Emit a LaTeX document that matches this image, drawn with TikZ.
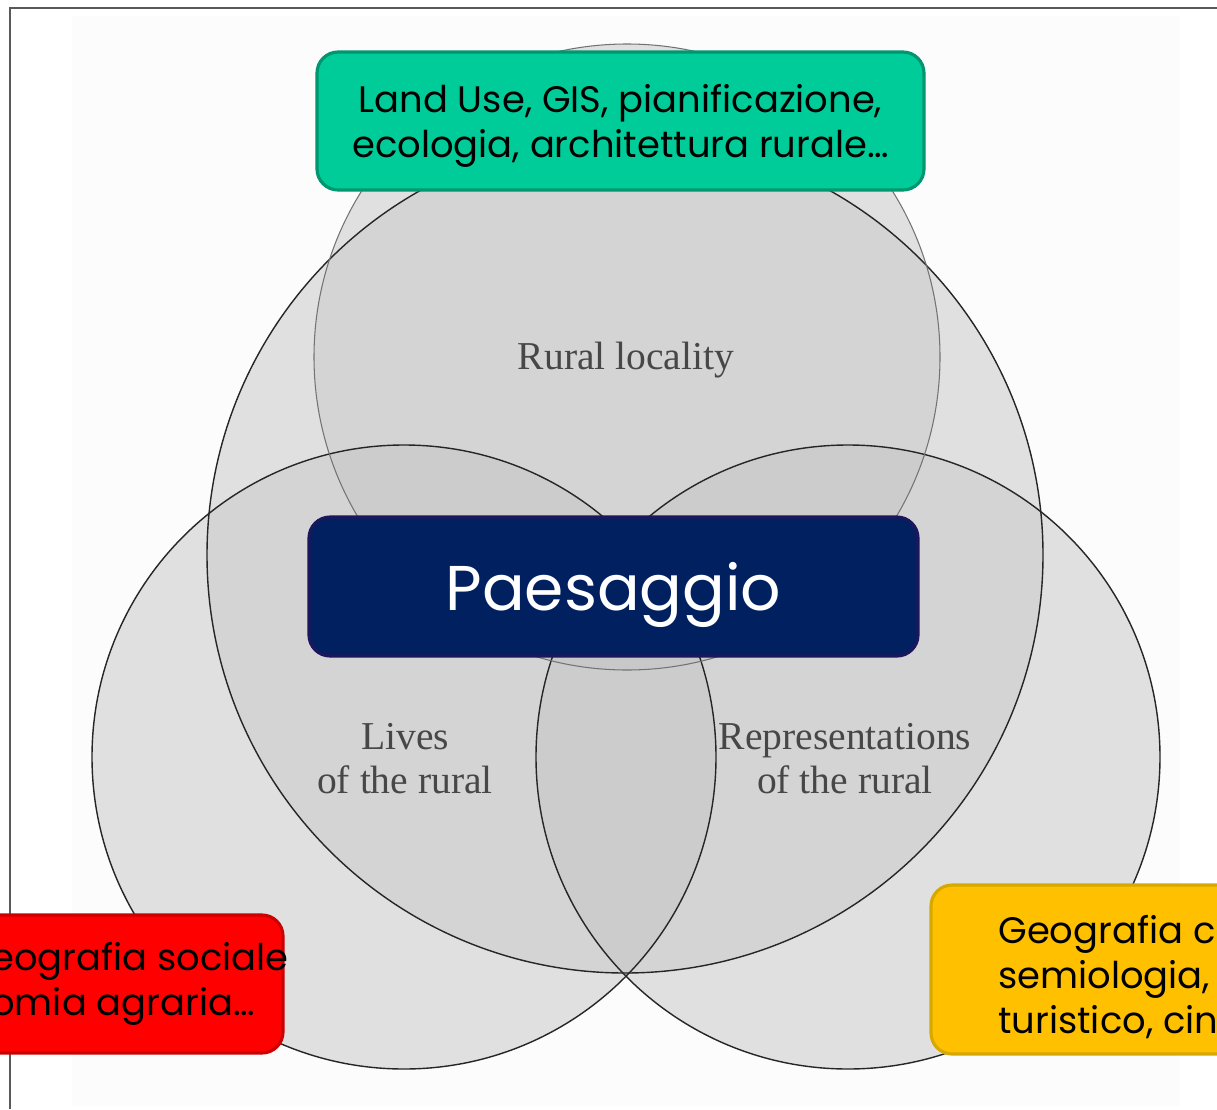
\documentclass[tikz,border=0pt]{standalone}
\usepackage{fontspec}
\setmainfont{Liberation Serif}
\newfontfamily\boxfont{Poppins}
\usepackage{xcolor}
\newcommand{\pix}{0.02cm}

\definecolor{vennone}{RGB}{224,224,224}
\definecolor{venntwo}{RGB}{212,212,212}
\definecolor{vennthree}{RGB}{204,204,204}
\definecolor{vennfour}{RGB}{200,200,200}
\definecolor{greenfill}{RGB}{0,204,153}
\definecolor{greenline}{RGB}{0,150,112}
\definecolor{navyfill}{RGB}{0,32,96}
\definecolor{navyline}{RGB}{28,22,92}
\definecolor{redfill}{RGB}{255,0,0}
\definecolor{redline}{RGB}{204,0,0}
\definecolor{goldfill}{RGB}{255,192,0}
\definecolor{goldline}{RGB}{214,168,0}

\begin{document}
\begin{tikzpicture}
\useasboundingbox (0,0) rectangle (1217*\pix,-1109*\pix);
\clip (0,0) rectangle (1217*\pix,-1109*\pix);
\tikzstyle{ring}=[draw=black!85, line width=0.8pt]
\tikzstyle{ringlight}=[draw=black!55, line width=0.6pt]
\tikzstyle{rurallabel}=[text=black!72, font=\fontsize{22.5}{25}\selectfont, align=center, inner sep=0pt]
\tikzstyle{boxtext}=[text=black, font=\boxfont\fontsize{21}{25.5}\selectfont, inner sep=0pt]
\tikzstyle{fieldbox}=[rounded corners=12pt, line width=1.8pt, minimum width=607*\pix, minimum height=138*\pix, inner sep=0pt]

\fill[black!1] (72*\pix,-16*\pix) rectangle (1180*\pix,-1106*\pix);
\draw[black!65, line width=0.7pt] (10*\pix,-1109*\pix) -- (10*\pix,-8*\pix) -- (1217*\pix,-8*\pix);

\coordinate (outer) at (625*\pix,-555*\pix);
\coordinate (locality) at (627*\pix,-357*\pix);
\coordinate (lives) at (404*\pix,-757*\pix);
\coordinate (repr) at (848*\pix,-757*\pix);

\fill[vennone] (outer) circle (418*\pix);
\fill[vennone] (locality) circle (313*\pix);
\fill[vennone] (lives) circle (312*\pix);
\fill[vennone] (repr) circle (312*\pix);

\begin{scope}
\clip (outer) circle (418*\pix);
\fill[venntwo] (locality) circle (313*\pix);
\fill[venntwo] (lives) circle (312*\pix);
\fill[venntwo] (repr) circle (312*\pix);
\end{scope}
\begin{scope}
\clip (locality) circle (313*\pix);
\fill[venntwo] (lives) circle (312*\pix);
\fill[venntwo] (repr) circle (312*\pix);
\end{scope}
\begin{scope}
\clip (lives) circle (312*\pix);
\fill[venntwo] (repr) circle (312*\pix);
\end{scope}

\begin{scope}
\clip (outer) circle (418*\pix);
\clip (locality) circle (313*\pix);
\fill[vennthree] (lives) circle (312*\pix);
\fill[vennthree] (repr) circle (312*\pix);
\end{scope}
\begin{scope}
\clip (outer) circle (418*\pix);
\clip (lives) circle (312*\pix);
\fill[vennthree] (repr) circle (312*\pix);
\end{scope}
\begin{scope}
\clip (outer) circle (418*\pix);
\clip (locality) circle (313*\pix);
\clip (lives) circle (312*\pix);
\fill[vennfour] (repr) circle (312*\pix);
\end{scope}

\draw[ring] (outer) circle (418*\pix);
\draw[ring] (lives) circle (312*\pix);
\draw[ring] (repr) circle (312*\pix);
\draw[ringlight] (locality) circle (313*\pix);

\node[rurallabel] (ruralloc) at (626*\pix,-360*\pix) {Rural locality};
\node[rurallabel] (rurallives) at (405*\pix,-759*\pix) {Lives\\of the rural};
\node[rurallabel] (ruralrepr) at (845*\pix,-759*\pix) {Representations\\of the rural};

\node[fieldbox, draw=greenline, fill=greenfill, boxtext, align=center, text depth=0pt] (landuse) at (620.5*\pix,-121*\pix) {Land Use, GIS, pianificazione,\\ecologia, architettura rurale…};

\node[fieldbox, draw=navyline, fill=navyfill, minimum width=609*\pix, minimum height=139*\pix, text=white, font=\boxfont\fontsize{36}{40}\selectfont, text height=27pt, text depth=0pt] (paesaggio) at (613.5*\pix,-586.5*\pix) {Paesaggio};

\node[fieldbox, draw=redline, fill=redfill] (sociale) at (-20.5*\pix,-984*\pix) {};
\node[boxtext, align=left, anchor=west] (socialetext) at (-9*\pix,-984*\pix) {eografia sociale\\omia agraria…};

\node[fieldbox, draw=goldline, fill=goldfill, minimum height=169*\pix] (culturale) at (1234.5*\pix,-969.5*\pix) {};
\node[boxtext, align=left, anchor=west] (culturaletext) at (998*\pix,-977*\pix) {Geografia c\\semiologia, r\\turistico, cine};

\end{tikzpicture}
\end{document}
